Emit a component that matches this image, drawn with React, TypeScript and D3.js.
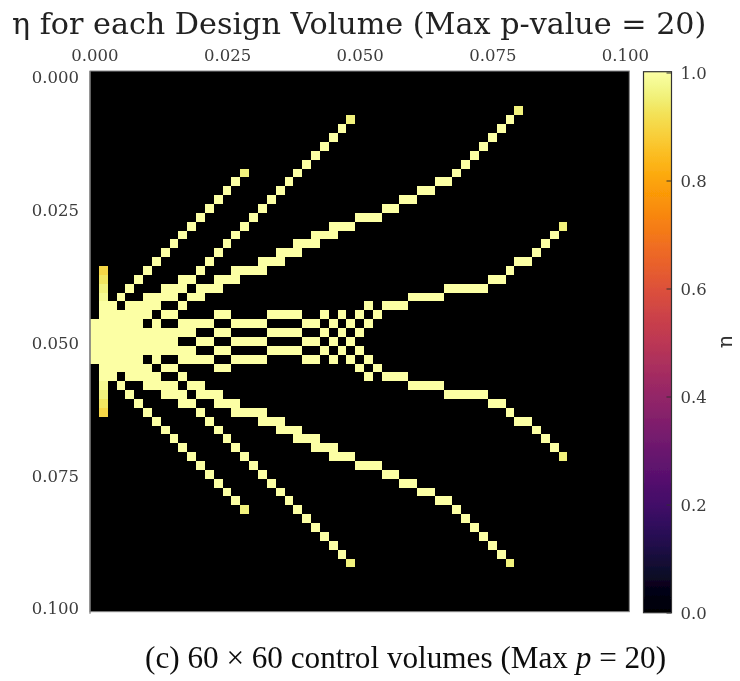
import React, { useEffect, useRef } from 'react'
import * as d3 from 'd3'

const width = 732
const height = 673

// eta = 1 runs per row of the 61 x 61 design grid, "from-to" columns
const solidRuns = [
	'', '', '', '',
	'48',
	'29 47',
	'28 46',
	'27 45',
	'26 44',
	'25 43',
	'24 42',
	'17 23 41',
	'16 22 39-40',
	'15 21 37-38',
	'14 20 35-36',
	'13 19 33-34',
	'12 18 30-32',
	'11 17 27-29 53',
	'10 16 25-27 52',
	'9 15 23-25 51',
	'8 14 21-23 50',
	'7 13 19-21 48-49',
	'1 6 12 16-19 47',
	'1 5 10-11 14-16 45-46',
	'1 4 8-10 12-14 40-44',
	'1 3 6-9 11-12 36-39',
	'1-2 4-7 10 31 33-35',
	'1-6 8-9 14-15 20-23 26 28 30 32',
	'0-5 7 10-13 16-19 24-25 27 29 31',
	'0-11 14-15 20-23 26 28 30',
	'0-9 12-13 16-19 24-25 27 29',
	'0-11 14-15 20-23 26 28 30',
	'0-5 7 10-13 16-19 24-25 27 29 31',
	'1-6 8-9 14-15 30 32',
	'1-2 4-7 10 31 33-35',
	'1 3 6-9 11-12 36-39',
	'1 4 8-10 12-14 40-44',
	'1 5 10-11 14-16 45-46',
	'1 6 12 16-19 47',
	'7 13 19-21 48-49',
	'8 14 21-23 50',
	'9 15 23-25 51',
	'10 16 25-27 52',
	'11 17 27-29 53',
	'12 18 30-32',
	'13 19 33-34',
	'14 20 35-36',
	'15 21 37-38',
	'16 22 39-40',
	'17 23 41',
	'24 42',
	'25 43',
	'26 44',
	'27 45',
	'28 46',
	'29 47',
]

// cells that are not fully 1: row, column, eta
const partialCells = [
	[22, 1, 0.9], [23, 1, 0.93], [24, 1, 0.96], [25, 1, 0.98],
	[35, 1, 0.98], [36, 1, 0.96], [37, 1, 0.93], [38, 1, 0.9],
	[11, 17, 0.96], [49, 17, 0.96], [5, 29, 0.96], [55, 29, 0.96],
	[4, 48, 0.96], [55, 47, 0.96], [17, 53, 0.96], [43, 53, 0.96],
]

const axisTicks = [0, 0.025, 0.05, 0.075, 0.1]
const colorTicks = [0, 0.2, 0.4, 0.6, 0.8, 1]

const fontFamily = '"DejaVu Serif", serif'
const labelColor = '#3c3c3c'

function parseCells() {
	const cells = []
	solidRuns.forEach((runs, row) => {
		if (!runs) return
		runs.split(' ').forEach((run) => {
			const [from, to] = run.split('-').map(Number)
			for (let col = from; col <= (to === undefined ? from : to); col++) {
				const partial = partialCells.find((d) => d[0] === row && d[1] === col)
				cells.push({ row, col, value: partial ? partial[2] : 1 })
			}
		})
	})
	return cells
}

export default function App() {
	const svgRef = useRef<SVGSVGElement>(null)

	useEffect(() => {
		const root = d3.select(svgRef.current)
		root.selectAll('*').remove()

		const defs = root.append('defs')
		// the reference is a resampled raster, its edges are a little soft
		defs.append('filter').attr('id', 'soft')
			.attr('filterUnits', 'userSpaceOnUse')
			.attr('x', -8).attr('y', -8).attr('width', width + 8).attr('height', height + 8)
			.append('feGaussianBlur').attr('stdDeviation', 0.45)

		const gradient = defs.append('linearGradient').attr('id', 'inferno')
			.attr('x1', 0).attr('x2', 0).attr('y1', 1).attr('y2', 0)
		d3.range(0, 1.001, 0.025).forEach((t) => {
			gradient.append('stop').attr('offset', t).attr('stop-color', d3.interpolateInferno(t))
		})

		const g = root.append('g').attr('filter', 'url(#soft)')

		const left = 82
		const top = 63
		const right = 621.3
		const bottom = 603.7

		g.append('rect').attr('x', left).attr('y', top)
			.attr('width', right - left).attr('height', bottom - top)
			.attr('fill', d3.interpolateInferno(0))

		// 61 nodes, each cell centred on its node
		const colScale = d3.scaleBand().domain(d3.range(61)).range([left, right])
		const rowScale = d3.scaleBand().domain(d3.range(61)).range([top, bottom])

		g.append('g').attr('shape-rendering', 'crispEdges')
			.selectAll('rect').data(parseCells()).join('rect')
			.attr('x', (d) => colScale(d.col))
			.attr('y', (d) => rowScale(d.row))
			.attr('width', colScale.bandwidth())
			.attr('height', rowScale.bandwidth())
			.attr('fill', (d) => d3.interpolateInferno(d.value))

		const x = d3.scaleLinear().domain([0, 0.1])
			.range([colScale(0) + colScale.bandwidth() / 2, colScale(60) + colScale.bandwidth() / 2])
		const y = d3.scaleLinear().domain([0, 0.1]).range([69.5, 600.5])

		const xAxis = g.append('g').attr('transform', `translate(0,${top})`)
			.call(d3.axisTop(x).tickValues(axisTicks).tickFormat(d3.format('.3f')).tickSize(0).tickPadding(10))
		const yAxis = g.append('g').attr('transform', `translate(${left},0)`)
			.call(d3.axisLeft(y).tickValues(axisTicks).tickFormat(d3.format('.3f')).tickSize(0).tickPadding(11))
		;[xAxis, yAxis].forEach((axis) => {
			axis.select('.domain').remove()
			axis.selectAll('text').attr('font-family', fontFamily).attr('font-size', 16.5).attr('fill', labelColor)
		})
		g.append('rect').attr('x', left).attr('y', top)
			.attr('width', right - left).attr('height', bottom - top)
			.attr('fill', 'none').attr('stroke', '#888').attr('stroke-width', 1)
		// left spine runs slightly past the image
		g.append('line').attr('x1', left).attr('x2', left)
			.attr('y1', top).attr('y2', bottom + 2)
			.attr('stroke', '#777').attr('stroke-width', 1.2)

		// colorbar
		const cbLeft = 635.5
		const cbWidth = 28
		g.append('rect').attr('x', cbLeft).attr('y', top + 0.7)
			.attr('width', cbWidth).attr('height', bottom + 1 - top - 0.7)
			.attr('fill', 'url(#inferno)').attr('stroke', '#333').attr('stroke-width', 1.2)
		const c = d3.scaleLinear().domain([0, 1]).range([605, 65])
		const cbAxis = g.append('g').attr('transform', `translate(${cbLeft + cbWidth},0)`)
			.call(d3.axisRight(c).tickValues(colorTicks).tickFormat(d3.format('.1f')).tickSize(0).tickPadding(9))
		cbAxis.select('.domain').remove()
		cbAxis.selectAll('text').attr('font-family', fontFamily).attr('font-size', 16.5).attr('fill', labelColor)
		g.append('g').selectAll('line').data(colorTicks).join('line')
			.attr('x1', cbLeft + cbWidth - 5).attr('x2', cbLeft + cbWidth)
			.attr('y1', (d) => c(d)).attr('y2', (d) => c(d))
			.attr('stroke', '#333')

		g.append('text').attr('transform', 'translate(724,334) rotate(-90)')
			.attr('text-anchor', 'middle').attr('font-family', fontFamily).attr('font-size', 21).attr('fill', '#333')
			.text('η')

		g.append('text').attr('x', 4).attr('y', 25.5)
			.attr('font-family', fontFamily).attr('font-size', 30.2).attr('fill', '#222')
			.text('η for each Design Volume (Max p-value = 20)')

		const caption = g.append('text').attr('x', 137).attr('y', 660)
			.attr('font-family', '"Liberation Serif", serif').attr('font-size', 31.2).attr('fill', '#111')
		caption.append('tspan').text('(c) 60 × 60 control volumes (Max ')
		caption.append('tspan').attr('font-style', 'italic').text('p')
		caption.append('tspan').text(' = 20)')
	}, [])

	return <svg ref={svgRef} width={width} height={height} style={{ display: 'block', overflow: 'visible' }} />
}
